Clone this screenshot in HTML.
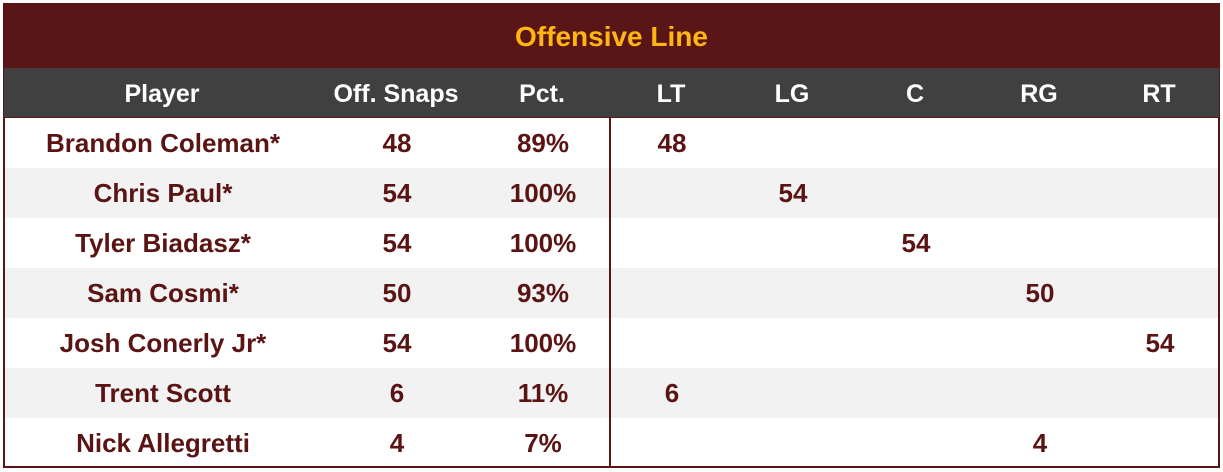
<!DOCTYPE html>
<html><head><meta charset="utf-8"><style>
body{margin:0;width:1223px;height:472px;background:#fff;position:relative;overflow:hidden;font-family:"Liberation Sans",sans-serif;font-weight:bold}
.t{position:absolute;left:3px;top:3px;width:1217px;height:65px;background:#5a1616;color:#ffb612;font-size:28px;text-align:center;line-height:68px}
.h{position:absolute;left:3px;top:68px;width:1217px;height:49px;background:#404040;border-left:1px solid #5a1616;border-right:1px solid #5a1616;box-sizing:border-box}
.r{position:absolute;left:3px;width:1217px;height:50px;box-sizing:border-box;border-left:2px solid #5a1616;border-right:2px solid #5a1616}
.c{position:absolute;width:300px;margin-left:-150px;text-align:center;font-size:26px;line-height:51px;color:#5a1414;white-space:nowrap;letter-spacing:0}
.h .c{color:#fff;line-height:52px;font-size:25px}
</style></head><body>
<div class="t">Offensive Line</div>
<div class="h">
<div class="c" style="left:158px">Player</div><div class="c" style="left:392px">Off. Snaps</div><div class="c" style="left:538px">Pct.</div><div class="c" style="left:667px">LT</div><div class="c" style="left:788px">LG</div><div class="c" style="left:911px">C</div><div class="c" style="left:1035px">RG</div><div class="c" style="left:1155px">RT</div>
</div>
<div style="position:absolute;left:3px;top:117px;width:1217px;height:2px;background:#5a1616"></div>
<div class="r" style="top:118px;background:#fff"><div class="c" style="left:158px">Brandon Coleman*</div><div class="c" style="left:392px">48</div><div class="c" style="left:538px">89%</div><div class="c" style="left:667px">48</div></div>
<div class="r" style="top:168px;background:#f2f2f2"><div class="c" style="left:158px">Chris Paul*</div><div class="c" style="left:392px">54</div><div class="c" style="left:538px">100%</div><div class="c" style="left:788px">54</div></div>
<div class="r" style="top:218px;background:#fff"><div class="c" style="left:158px">Tyler Biadasz*</div><div class="c" style="left:392px">54</div><div class="c" style="left:538px">100%</div><div class="c" style="left:911px">54</div></div>
<div class="r" style="top:268px;background:#f2f2f2"><div class="c" style="left:158px">Sam Cosmi*</div><div class="c" style="left:392px">50</div><div class="c" style="left:538px">93%</div><div class="c" style="left:1035px">50</div></div>
<div class="r" style="top:318px;background:#fff"><div class="c" style="left:158px">Josh Conerly Jr*</div><div class="c" style="left:392px">54</div><div class="c" style="left:538px">100%</div><div class="c" style="left:1155px">54</div></div>
<div class="r" style="top:368px;background:#f2f2f2"><div class="c" style="left:158px">Trent Scott</div><div class="c" style="left:392px">6</div><div class="c" style="left:538px">11%</div><div class="c" style="left:667px">6</div></div>
<div class="r" style="top:418px;background:#fff;height:49px"><div class="c" style="left:158px">Nick Allegretti</div><div class="c" style="left:392px">4</div><div class="c" style="left:538px">7%</div><div class="c" style="left:1035px">4</div></div>
<div style="position:absolute;left:3px;top:466px;width:1217px;height:2px;background:#5a1616"></div>
<div style="position:absolute;left:609px;top:118px;width:2px;height:349px;background:#5a1616"></div>
</body></html>
